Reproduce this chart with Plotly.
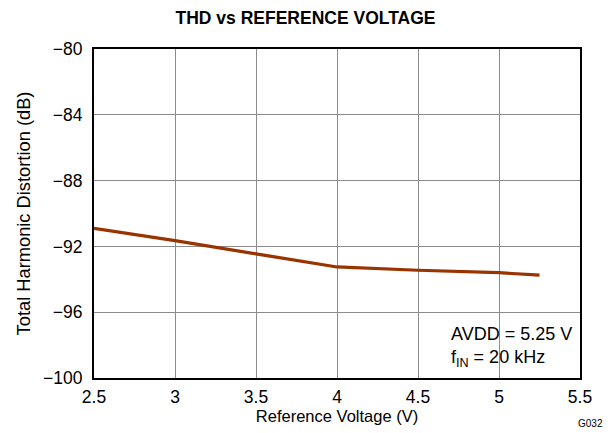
import plotly.graph_objects as go

ref_voltage = [2.5, 3.0, 3.5, 4.0, 4.5, 5.0, 5.25]
thd_db = [-90.9, -91.65, -92.45, -93.25, -93.45, -93.6, -93.75]
x_ticks = [2.5, 3, 3.5, 4, 4.5, 5, 5.5]
y_ticks = [-100, -96, -92, -88, -84, -80]

FONT = "Liberation Sans, Arial"
W, H = 603, 425
L, R, T, B = 86, 31, 41, 55
PW, PH = W - L - R, H - T - B

fig = go.Figure()
fig.add_trace(go.Scatter(x=ref_voltage, y=thd_db, mode="lines",
                         line=dict(color="#993300", width=3.2), showlegend=False))

axis_common = dict(showline=True, linecolor="black", linewidth=2, mirror=True,
                   showgrid=True, gridcolor="#8c8c8c", gridwidth=1,
                   ticks="", zeroline=False, automargin=False,
                   tickfont=dict(family=FONT, size=17.5, color="black"))

fig.update_xaxes(range=[2.5, 5.5], tickvals=x_ticks, title_text="Reference Voltage (V)",
                 title_font=dict(family=FONT, size=16.5, color="black"),
                 title_standoff=4, ticklabelstandoff=2, **axis_common)
fig.update_yaxes(range=[-100, -80], tickvals=y_ticks, title_text="Total Harmonic Distortion (dB)",
                 title_font=dict(family=FONT, size=18.3, color="black"),
                 title_standoff=8, ticklabelstandoff=6, **axis_common)

fig.add_shape(type="rect", xref="x", yref="y", x0=4.59, x1=5.5, y0=-100, y1=-95.95,
              fillcolor="white", line=dict(width=0), layer="below")

fig.add_annotation(x=4.69, y=-98.1, xref="x", yref="y", xanchor="left", yanchor="middle",
                   align="left",
                   text="AVDD = 5.25 V<br>f<sub>IN</sub> = 20 kHz", showarrow=False,
                   font=dict(family=FONT, size=18, color="black"))
fig.add_annotation(x=(582 - L) / PW, y=-(415 - (T + PH)) / PH, xref="paper", yref="paper",
                   text="G032", showarrow=False, xanchor="center", yanchor="middle",
                   font=dict(family=FONT, size=10, color="black"))

fig.update_layout(
    width=W, height=H,
    margin=dict(l=L, r=R, t=T, b=B),
    paper_bgcolor="white", plot_bgcolor="white",
    title=dict(text="<b>THD vs REFERENCE VOLTAGE</b>", x=297.5 / W, xanchor="center",
               y=1 - 10 / H, yanchor="middle",
               font=dict(family=FONT, size=17.5, color="black")),
)

fig.write_html("out.html")
